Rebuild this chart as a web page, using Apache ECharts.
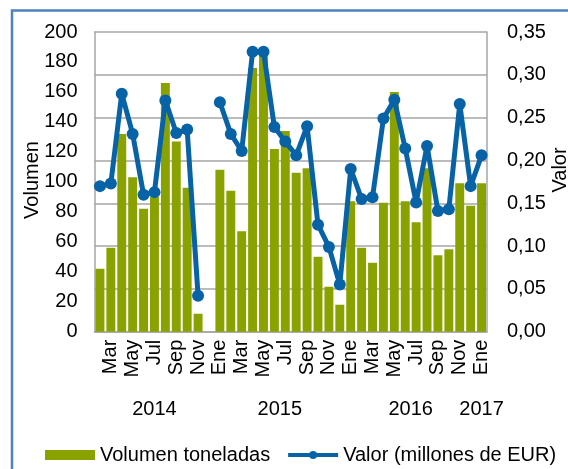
<!DOCTYPE html>
<html><head><meta charset="utf-8">
<script src="https://cdn.jsdelivr.net/npm/echarts@6/dist/echarts.min.js"></script>
<style>html,body{margin:0;padding:0;background:#fff}#c{width:568px;height:469px}</style>
</head><body><div id="c"></div>
<script>
const months = ['Feb','Mar','Abr','May','Jun','Jul','Ago','Sep','Oct','Nov','Dic',
  'Ene','Feb','Mar','Abr','May','Jun','Jul','Ago','Sep','Oct','Nov','Dic',
  'Ene','Feb','Mar','Abr','May','Jun','Jul','Ago','Sep','Oct','Nov','Dic',
  'Ene'];
const volumen = [42, 56, 132, 103, 82, 90, 166, 127, 96, 12, null,
  108, 94, 67, 176, 185, 122, 134, 106, 109, 50, 30, 18,
  87, 56, 46, 86, 160, 87, 73, 109, 51, 55, 99, 84,
  99];
const valor = [0.170, 0.173, 0.278, 0.231, 0.160, 0.163, 0.270, 0.232, 0.236, 0.042, null,
  0.268, 0.231, 0.211, 0.327, 0.327, 0.239, 0.222, 0.206, 0.240, 0.125, 0.099, 0.055,
  0.190, 0.155, 0.157, 0.249, 0.271, 0.214, 0.151, 0.217, 0.141, 0.143, 0.266, 0.170,
  0.206];
const years = ['2014', '2015', '2016', '2017'];

// year spans derived from the month list (a new year starts at each 'Ene')
const yearCenters = [];
(function () {
  let start = 0;
  for (let i = 1; i <= months.length; i++) {
    if (i === months.length || months[i] === 'Ene') {
      yearCenters.push((start + i) / 2);
      start = i;
    }
  }
})();

const FONT = 'Liberation Sans, Arial, sans-serif';
const GRAY = '#a6a6a6';
const BLUE = '#0763a6';
const chart = echarts.init(document.getElementById('c'), null, {renderer: 'canvas'});
chart.setOption({
  animation: false,
  textStyle: {fontFamily: FONT},
  grid: {left: 94.5, right: 81, top: 32, bottom: 137.3, containLabel: false},
  legend: {
    left: 40, top: 440, itemWidth: 50, itemHeight: 10, itemGap: 16,
    textStyle: {fontSize: 20, color: '#000', fontFamily: FONT},
    data: [{name: 'Volumen toneladas', icon: 'rect'},
           {name: 'Valor (millones de EUR)', lineStyle: {width: 4, color: BLUE}}]
  },
  xAxis: [{
    type: 'category', data: months, boundaryGap: true,
    axisLine: {show: true, lineStyle: {color: GRAY, width: 1.5}},
    axisTick: {show: false},
    axisLabel: {interval: (i) => i % 2 === 1, rotate: 90, margin: 8, fontSize: 20, color: '#000', fontFamily: FONT},
    splitLine: {show: false}
  }, {
    type: 'value', min: 0, max: months.length, position: 'bottom', offset: 60,
    axisLine: {show: false}, axisTick: {show: false}, splitLine: {show: false},
    axisLabel: {
      show: true, margin: 8, fontSize: 20, color: '#000', fontFamily: FONT,
      customValues: yearCenters,
      formatter: (v) => {
        for (let k = 0; k < yearCenters.length; k++) if (Math.abs(yearCenters[k] - v) < 1e-6) return years[k];
        return '';
      }
    }
  }],
  yAxis: [{
    type: 'value', min: 0, max: 200, interval: 20, position: 'left',
    axisLine: {show: true, lineStyle: {color: GRAY, width: 1.5}},
    axisTick: {show: false}, splitLine: {show: false},
    axisLabel: {margin: 17, fontSize: 20, color: '#000', fontFamily: FONT}
  }, {
    type: 'value', min: 0, max: 0.35, interval: 0.05, position: 'right',
    axisLine: {show: true, lineStyle: {color: GRAY, width: 1.5}},
    axisTick: {show: false},
    splitLine: {show: true, lineStyle: {color: GRAY, width: 1.5}},
    axisLabel: {margin: 20, fontSize: 20, color: '#000', fontFamily: FONT,
      formatter: (v) => v.toFixed(2).replace('.', ',')}
  }],
  graphic: [
    {type: 'rect', z: -10, shape: {x: 12, y: 10.5, width: 700, height: 600},
      style: {fill: 'none', stroke: '#4f81bd', lineWidth: 2.5}},
    {type: 'text', x: 32, y: 180, rotation: Math.PI / 2,
      style: {text: 'Volumen', fontSize: 20, fontFamily: FONT, fill: '#000', textAlign: 'center', textVerticalAlign: 'middle'}},
    {type: 'text', x: 560, y: 170, rotation: Math.PI / 2,
      style: {text: 'Valor', fontSize: 20, fontFamily: FONT, fill: '#000', textAlign: 'center', textVerticalAlign: 'middle'}}
  ],
  series: [{
    type: 'bar', name: 'Volumen toneladas', data: volumen, xAxisIndex: 0, yAxisIndex: 0,
    barCategoryGap: '18%', itemStyle: {color: '#8aa200'}
  }, {
    type: 'line', name: 'Valor (millones de EUR)', data: valor, xAxisIndex: 0, yAxisIndex: 1,
    symbol: 'circle', symbolSize: 12, showAllSymbol: true, connectNulls: false,
    lineStyle: {width: 5, color: BLUE}, itemStyle: {color: BLUE}
  }]
});
</script></body></html>
